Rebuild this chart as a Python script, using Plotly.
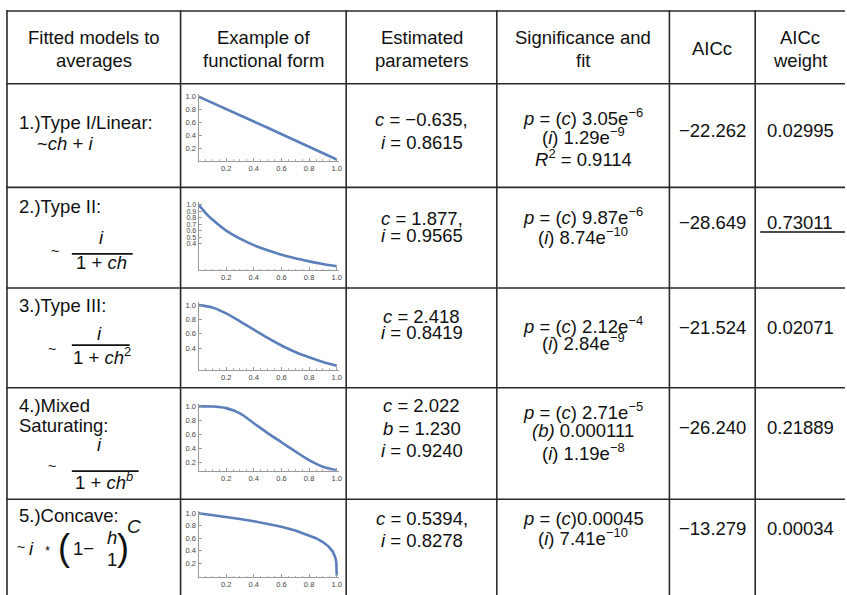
import plotly.graph_objects as go

W, H = 847, 595

# ---------------- data ----------------
header_texts = [
    ["Fitted models to", "averages"],
    ["Example of", "functional form"],
    ["Estimated", "parameters"],
    ["Significance and", "fit"],
    ["AICc"],
    ["AICc", "weight"],
]
model_names = [["1.)Type I/Linear:"], ["2.)Type II:"], ["3.)Type III:"],
               ["4.)Mixed", "Saturating:"], ["5.)Concave:"]]
param_lines = [
    ["<i>c</i> = −0.635,", "<i>i</i> = 0.8615"],
    ["<i>c</i> = 1.877,", "<i>i</i> = 0.9565"],
    ["<i>c</i> = 2.418", "<i>i</i> = 0.8419"],
    ["<i>c</i> = 2.022", "<i>b</i> = 1.230", "<i>i</i> = 0.9240"],
    ["<i>c</i> = 0.5394,", "<i>i</i> = 0.8278"],
]
signif_lines = [
    ["<i>p</i> = (<i>c</i>) 3.05e<sup>−6</sup>", "(<i>i</i>) 1.29e<sup>−9</sup>", "<i>R</i><sup>2</sup> = 0.9114"],
    ["<i>p</i> = (<i>c</i>) 9.87e<sup>−6</sup>", "(<i>i</i>) 8.74e<sup>−10</sup>"],
    ["<i>p</i> = (<i>c</i>) 2.12e<sup>−4</sup>", "(<i>i</i>) 2.84e<sup>−9</sup>"],
    ["<i>p</i> = (<i>c</i>) 2.71e<sup>−5</sup>", "<i>(b)</i> 0.000111", "(<i>i</i>) 1.19e<sup>−8</sup>"],
    ["<i>p</i> = (<i>c</i>)0.00045", "(<i>i</i>) 7.41e<sup>−10</sup>"],
]
aicc = ["−22.262", "−28.649", "−21.524", "−26.240", "−13.279"]
aicc_weight = ["0.02995", "0.73011", "0.02071", "0.21889", "0.00034"]

# example curves
h_lin = [0.0, 0.5, 1.0]
v_lin = [1.0, 0.52, 0.03]
h_t2 = [0.0, 0.05, 0.1, 0.2, 0.3, 0.4, 0.5, 0.6, 0.7, 0.8, 0.9, 1.0]
v_t2 = [1.0, 0.875, 0.77, 0.60, 0.475, 0.375, 0.295, 0.228, 0.172, 0.125, 0.083, 0.048]
h_t3 = [0.0, 0.1, 0.2, 0.3, 0.4, 0.5, 0.6, 0.7, 0.8, 0.9, 1.0]
v_t3 = [1.0, 0.968, 0.885, 0.775, 0.66, 0.543, 0.438, 0.347, 0.273, 0.208, 0.157]
h_mix = [0.0, 0.1, 0.2, 0.3, 0.4, 0.5, 0.6, 0.7, 0.8, 0.9, 1.0]
v_mix = [1.0, 0.998, 0.975, 0.90, 0.76, 0.62, 0.49, 0.36, 0.235, 0.14, 0.09]
h_con = [0.0, 0.1, 0.2, 0.3, 0.4, 0.5, 0.6, 0.7, 0.8, 0.85, 0.9, 0.94, 0.97, 0.99, 0.997, 1.0]
v_con = [1.0, 0.972, 0.942, 0.908, 0.871, 0.829, 0.781, 0.722, 0.648, 0.599, 0.537, 0.468, 0.388, 0.288, 0.21, 0.0]

curves = [(h_lin, v_lin), (h_t2, v_t2), (h_t3, v_t3), (h_mix, v_mix), (h_con, v_con)]
x_ticks = [0.2, 0.4, 0.6, 0.8, 1.0]
y_ticks = [
    [0.2, 0.4, 0.6, 0.8, 1.0],
    [0.4, 0.5, 0.6, 0.7, 0.8, 0.9, 1.0],
    [0.4, 0.6, 0.8, 1.0],
    [0.2, 0.4, 0.6, 0.8, 1.0],
    [0.2, 0.4, 0.6, 0.8, 1.0],
]
y_ranges = [[0.01, 1.04], [-0.01, 1.04], [0.10, 1.04], [0.085, 1.04], [-0.03, 1.04]]

# ---------------- layout helpers ----------------
def X(p):
    return p / W

def Y(p):
    return 1 - p / H

FONT = "Liberation Sans, Arial, Helvetica, sans-serif"
TXT = "#111111"
LINE = "#2a2a2a"

panel_y = [(159.3, 92.35), (269.0, 200.75), (369.0, 301.3), (470.3, 402.9), (577.3, 510.4)]
panel_x = (199.0, 340.3)

fig = go.Figure()
layout = dict(
    width=W, height=H, margin=dict(l=0, r=0, t=0, b=0),
    paper_bgcolor="white", plot_bgcolor="rgba(0,0,0,0)", showlegend=False,
)

for k, ((hx, vy), (yb, yt)) in enumerate(zip(curves, panel_y)):
    n = k + 1
    xa = "x" if n == 1 else f"x{n}"
    ya = "y" if n == 1 else f"y{n}"
    fig.add_trace(go.Scatter(
        x=hx, y=vy, xaxis=xa, yaxis=ya, mode="lines",
        line=dict(color="#5b7fba", width=2.6, shape="spline" if k < 4 else "linear", smoothing=0.8),
        hoverinfo="skip",
    ))
    key_x = "xaxis" if n == 1 else f"xaxis{n}"
    key_y = "yaxis" if n == 1 else f"yaxis{n}"
    layout[key_x] = dict(
        domain=[X(panel_x[0]), X(panel_x[1])], range=[0, 1.02], anchor=ya,
        showline=True, linecolor="#9a9a9a", linewidth=1, showgrid=False, zeroline=False,
        tickvals=x_ticks, tickformat=".1f", ticks="inside", ticklen=3, tickcolor="#9a9a9a",
        tickfont=dict(family=FONT, size=7.5, color="#444"),
        minor=dict(tickvals=[i * 0.05 for i in range(1, 21)], ticks="inside", ticklen=1.5, tickcolor="#b5b5b5"),
        fixedrange=True,
    )
    layout[key_y] = dict(
        domain=[Y(yb), Y(yt)], range=y_ranges[k], anchor=xa,
        showline=True, linecolor="#9a9a9a", linewidth=1, showgrid=False, zeroline=False,
        tickvals=y_ticks[k], tickformat=".1f", ticks="inside", ticklen=3, tickcolor="#9a9a9a",
        tickfont=dict(family=FONT, size=7 if k == 1 else 7.5, color="#444"),
        fixedrange=True,
    )

# ---------------- table grid ----------------
shapes = []
row_lines = [9, 82, 186, 287, 387, 499]
col_lines = [7, 181, 347, 498, 671, 757]
for yl in row_lines:
    shapes.append(dict(type="line", xref="paper", yref="paper", x0=X(6.3), x1=X(847), y0=Y(yl), y1=Y(yl),
                       line=dict(color=LINE, width=1.6)))
for xl in col_lines:
    shapes.append(dict(type="line", xref="paper", yref="paper", x0=X(xl), x1=X(xl), y0=Y(8.3), y1=Y(595),
                       line=dict(color=LINE, width=1.6)))
shapes.append(dict(type="line", xref="paper", yref="paper", x0=X(762), x1=X(847), y0=Y(230.7), y1=Y(230.7),
                   line=dict(color="#111", width=1.5)))
for (x0, x1, yy) in [(72, 133, 252.7), (72, 130, 344.3), (72, 139, 470.7)]:
    shapes.append(dict(type="line", xref="paper", yref="paper", x0=X(x0), x1=X(x1), y0=Y(yy), y1=Y(yy),
                       line=dict(color="#111", width=1.8)))
layout["shapes"] = shapes

# ---------------- annotations ----------------
ann = []
def T(text, x, y, size=18.5, anchor="center", color=TXT):
    ann.append(dict(text=text, x=X(x), y=Y(y), xref="paper", yref="paper", showarrow=False,
                    xanchor=anchor, yanchor="middle", font=dict(family=FONT, size=size, color=color)))

col_centers = [94, 264, 422.5, 584.5, 714, 802]
for c, lines in enumerate(header_texts):
    ys = [36.0, 58.5] if len(lines) == 2 else [46.5]
    for t, yy in zip(lines, ys):
        T(t, col_centers[c], yy)

name_y = [[121], [205], [305], [405, 425], [515]]
for lines, ys in zip(model_names, name_y):
    for t, yy in zip(lines, ys):
        T(t, 17, yy, anchor="left")

T("~<i>ch</i> + <i>i</i>", 65, 142)
T("~", 55, 250, size=14)
T("<i>i</i>", 102, 236.7)
T("1 + <i>ch</i>", 102, 261)
T("~", 52, 348, size=14)
T("<i>i</i>", 100, 333)
T("1 + <i>ch</i><sup>2</sup>", 102, 355)
T("~", 52, 466, size=14)
T("<i>i</i>", 100, 444)
T("1 + <i>ch</i><sup><i>b</i></sup>", 104, 481)
T("~", 21, 547, size=14)
T("<i>i</i>", 32, 548)
T("*", 48, 550, size=13)
T("(", 64, 547, size=36)
T("1−", 84, 548)
T("<i>h</i>", 112, 537)
T("1", 112, 559)
T(")", 123, 547, size=36)
T("<i>C</i>", 134, 526, size=19)

param_y = [[118, 141], [217, 234], [315.5, 332], [405, 427.5, 450], [518, 540]]
for lines, ys in zip(param_lines, param_y):
    for t, yy in zip(lines, ys):
        T(t, 422.5, yy)

signif_y = [[115, 134, 156.5], [215, 235], [324.5, 341], [410.7, 430, 451.7], [518.3, 536.7]]
for lines, ys in zip(signif_lines, signif_y):
    for t, yy in zip(lines, ys):
        T(t, 584.5, yy)

row_val_y = [129.3, 221.7, 326.7, 426.7, 528.3]
for a, wgt, yy in zip(aicc, aicc_weight, row_val_y):
    T(a, 714, yy)
    T(wgt, 767, yy, anchor="left")

layout["annotations"] = ann
fig.update_layout(**layout)
fig.write_html(
    "out.html",
    config={"displayModeBar": False, "staticPlot": True},
    post_script="document.body.style.margin='0px';document.body.style.overflow='hidden';",
)
